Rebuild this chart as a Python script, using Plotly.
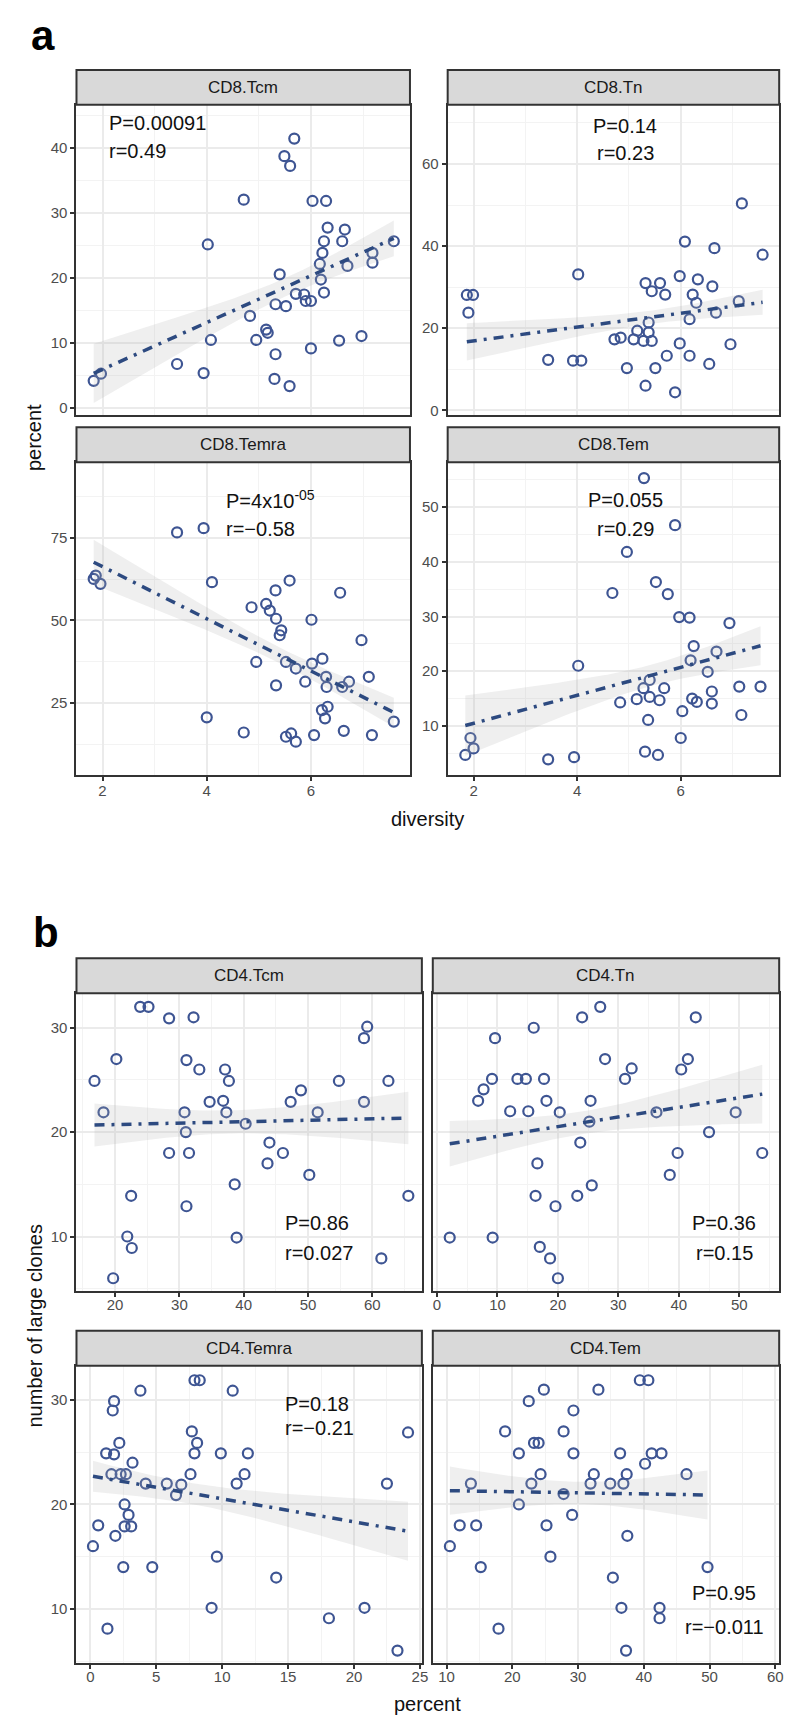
import numpy as np
import plotly.graph_objects as go

# ---- data ----
tcm8_div = [1.83, 1.97, 3.43, 3.94, 4.02, 4.08, 4.71, 4.83, 4.95, 5.14, 5.17, 5.32, 5.30, 5.40,
            5.32, 5.52, 5.49, 5.60, 5.68, 5.59, 5.71, 5.87, 6.00, 6.00, 6.03, 6.29, 6.32, 6.25,
            6.22, 6.19, 6.25, 6.65, 6.60, 6.70, 6.54, 6.97, 7.18, 7.18, 7.59, 6.17, 5.90]
tcm8_pct = [4.1, 5.2, 6.7, 5.3, 25.1, 10.4, 32.0, 14.1, 10.4, 12.0, 11.5, 8.2, 4.4, 20.5,
            15.9, 15.6, 38.7, 37.2, 41.4, 3.3, 17.5, 17.4, 16.4, 9.1, 31.8, 31.8, 27.7, 25.6,
            23.8, 19.7, 17.7, 27.4, 25.6, 21.8, 10.3, 11.0, 23.8, 22.3, 25.6, 22.1, 16.4]

tn8_div = [1.87, 1.99, 1.90, 3.44, 3.92, 4.08, 4.02, 4.72, 4.84, 4.96, 5.16, 5.09, 5.28, 5.44,
           5.38, 5.38, 5.32, 5.44, 5.60, 5.70, 5.32, 5.51, 5.73, 5.89, 5.98, 6.08, 5.98, 6.17,
           6.17, 6.23, 6.33, 6.30, 6.61, 6.65, 6.68, 6.55, 6.96, 7.12, 7.18, 7.58]
tn8_pct = [28.1, 28.1, 23.8, 12.3, 12.1, 12.1, 33.1, 17.3, 17.7, 10.3, 19.4, 17.3, 16.9, 16.9,
           21.4, 19.0, 31.0, 29.0, 31.0, 28.2, 6.0, 10.3, 13.3, 4.4, 32.7, 41.1, 16.3, 13.3,
           22.2, 28.2, 31.9, 26.2, 30.2, 39.5, 23.8, 11.3, 16.1, 26.6, 50.4, 37.9]

temra8_div = [1.83, 1.96, 1.87, 3.43, 3.94, 4.10, 4.00, 4.71, 4.86, 4.95, 5.14, 5.21, 5.32, 5.33,
              5.43, 5.40, 5.59, 5.33, 5.52, 5.71, 5.52, 5.62, 5.71, 5.89, 6.01, 6.02, 6.22, 6.29,
              6.30, 6.06, 6.21, 6.32, 6.27, 6.56, 6.60, 6.73, 6.63, 6.97, 7.11, 7.17, 7.59]
temra8_pct = [62.6, 61.1, 63.6, 76.7, 78.0, 61.6, 20.6, 16.0, 54.0, 37.4, 55.0, 53.0, 59.1, 50.5,
              47.0, 45.5, 62.1, 30.3, 37.4, 35.4, 14.7, 15.7, 13.2, 31.4, 50.2, 36.9, 38.4, 32.9,
              29.8, 15.2, 22.8, 23.8, 20.3, 58.4, 29.8, 31.4, 16.5, 44.0, 32.9, 15.2, 19.3]

tem8_div = [1.84, 2.00, 1.94, 3.44, 3.94, 4.02, 4.68, 4.83, 4.96, 5.15, 5.29, 5.31, 5.56, 5.37,
            5.28, 5.40, 5.40, 5.59, 5.68, 5.52, 5.75, 5.89, 5.97, 6.17, 6.03, 6.00, 6.25, 6.19,
            6.22, 6.31, 6.52, 6.60, 6.60, 6.69, 6.94, 7.13, 7.17, 7.54]
tem8_pct = [4.7, 5.9, 7.8, 3.9, 4.3, 21.0, 34.3, 14.3, 41.8, 14.9, 55.3, 5.3, 4.7, 11.1,
            16.9, 18.4, 15.3, 14.7, 16.9, 36.3, 34.1, 46.7, 29.9, 29.8, 12.7, 7.8, 24.6, 22.0,
            15.0, 14.4, 19.9, 16.3, 14.1, 23.6, 28.8, 17.2, 12.0, 17.2]

tcm4_pct = [16.8, 18.2, 20.2, 19.7, 22.5, 21.9, 22.6, 23.9, 25.2, 28.4, 32.2, 28.4, 31.5, 31.1,
            33.1, 30.8, 31.0, 31.1, 34.7, 36.8, 37.1, 37.7, 37.3, 38.6, 38.9, 40.3, 44.0, 43.7,
            46.1, 47.3, 48.9, 50.2, 51.5, 54.8, 58.7, 59.2, 58.7, 62.5, 61.4, 65.6]
tcm4_clones = [24.9, 21.9, 27.0, 6.0, 13.9, 10.0, 8.9, 32.0, 32.0, 30.9, 31.0, 18.0, 18.0, 26.9,
               26.0, 21.9, 20.0, 12.9, 22.9, 23.0, 26.0, 24.9, 21.9, 15.0, 9.9, 20.8, 19.0, 17.0,
               18.0, 22.9, 24.0, 15.9, 21.9, 24.9, 22.9, 30.1, 29.0, 24.9, 7.9, 13.9]

tn4_pct = [2.1, 9.2, 6.8, 7.7, 9.1, 9.6, 12.1, 15.1, 13.3, 14.7, 16.0, 17.7, 18.1, 20.3,
           16.6, 16.3, 17.0, 18.7, 19.6, 20.0, 23.2, 25.6, 23.7, 25.2, 25.4, 24.0, 27.0, 27.8,
           31.1, 32.2, 36.3, 38.5, 39.8, 40.4, 41.5, 42.8, 45.0, 49.4, 53.8]
tn4_clones = [9.9, 9.9, 23.0, 24.1, 25.1, 29.0, 22.0, 22.0, 25.1, 25.1, 30.0, 25.1, 23.0, 21.9,
              17.0, 13.9, 9.0, 7.9, 12.9, 6.0, 13.9, 14.9, 19.0, 21.0, 23.0, 31.0, 32.0, 27.0,
              25.1, 26.1, 21.9, 15.9, 18.0, 26.0, 27.0, 31.0, 20.0, 21.9, 18.0]

temra4_pct = [0.2, 0.6, 1.3, 1.2, 1.8, 1.7, 1.8, 1.6, 2.2, 2.3, 2.7, 3.2, 1.9, 2.6, 2.9,
              2.6, 3.1, 2.5, 3.8, 4.2, 4.7, 5.8, 6.5, 6.9, 7.6, 7.7, 8.1, 7.9, 7.9, 8.3,
              9.2, 9.6, 9.9, 10.8, 11.1, 11.7, 11.95, 14.1, 18.1, 20.8, 22.5, 23.3, 24.1]
temra4_clones = [16.0, 18.0, 8.1, 24.9, 24.8, 29.0, 29.9, 22.9, 25.9, 22.9, 22.9, 24.0, 17.0, 20.0, 19.0,
                 17.9, 17.9, 14.0, 30.9, 22.0, 14.0, 22.0, 20.9, 21.9, 22.9, 27.0, 25.9, 24.9, 31.9, 31.9,
                 10.1, 15.0, 24.9, 30.9, 22.0, 22.9, 24.9, 13.0, 9.1, 10.1, 22.0, 6.0, 26.9]

tem4_pct = [10.5, 12.0, 13.7, 14.5, 15.2, 17.9, 18.9, 21.0, 21.0, 22.5, 22.9, 23.3, 24.0, 24.3,
            24.8, 25.2, 25.8, 27.8, 27.8, 29.1, 29.3, 29.3, 31.9, 32.4, 33.1, 34.9, 35.3, 36.4,
            36.9, 36.6, 37.3, 37.4, 37.5, 39.4, 40.7, 40.2, 41.2, 42.7, 42.4, 42.4, 46.5, 49.7]
tem4_clones = [16.0, 18.0, 22.0, 18.0, 14.0, 8.1, 27.0, 20.0, 24.9, 29.9, 22.0, 25.9, 25.9, 22.9,
               31.0, 18.0, 15.0, 27.0, 21.0, 19.0, 29.0, 24.9, 22.0, 22.9, 31.0, 22.0, 13.0, 24.9,
               22.0, 10.1, 6.0, 22.9, 17.0, 31.9, 31.9, 23.9, 24.9, 24.9, 10.1, 9.1, 22.9, 14.0]

panel_names = ["CD8.Tcm", "CD8.Tn", "CD8.Temra", "CD8.Tem", "CD4.Tcm", "CD4.Tn", "CD4.Temra", "CD4.Tem"]
p_labels = ["P=0.00091", "P=0.14", "P=4x10<sup>-05</sup>", "P=0.055", "P=0.86", "P=0.36", "P=0.18", "P=0.95"]
r_labels = ["r=0.49", "r=0.23", "r=\u22120.58", "r=0.29", "r=0.027", "r=0.15", "r=\u22120.21", "r=\u22120.011"]

W, H = 800, 1732
FONT = "Liberation Sans, Arial, Helvetica, sans-serif"
PT_COLOR = "#3E5593"
LINE_COLOR = "#2D4A80"

# panel geometry in pixels: (left, right, top, bottom)
panels = [
    dict(x=tcm8_div, y=tcm8_pct, box=(69, 405, 97, 408), xr=[1.5, 7.9], yr=[-1.2, 46.6], xd=2, yd=10,
         showx=False, showy=True, lab=(0.092, "left", 0.942, 0.852)),
    dict(x=tn8_div, y=tn8_pct, box=(443, 777, 97, 408), xr=[1.5, 7.9], yr=[-1.2, 74.4], xd=2, yd=20,
         showx=False, showy=True, lab=(0.536, "center", 0.932, 0.846)),
    dict(x=temra8_div, y=temra8_pct, box=(69, 405, 455, 768), xr=[1.5, 7.9], yr=[3.2, 98], xd=2, yd=25,
         showx=True, showy=True, lab=(0.443, "left", 0.882, 0.786)),
    dict(x=tem8_div, y=tem8_pct, box=(443, 777, 455, 768), xr=[1.5, 7.9], yr=[1.1, 58.2], xd=2, yd=10,
         showx=True, showy=True, lab=(0.536, "center", 0.879, 0.786)),
    dict(x=tcm4_pct, y=tcm4_clones, box=(69, 417, 987, 1285), xr=[14, 67.7], yr=[4.8, 33.3], xd=10, yd=10,
         showx=True, showy=True, lab=(0.598, "left", 0.228, 0.128)),
    dict(x=tn4_pct, y=tn4_clones, box=(428, 777, 987, 1285), xr=[-0.7, 56.6], yr=[4.8, 33.3], xd=10, yd=10,
         showx=True, showy=False, lab=(0.842, "center", 0.228, 0.128)),
    dict(x=temra4_pct, y=temra4_clones, box=(69, 417, 1360, 1658), xr=[-1.05, 25.15], yr=[4.8, 33.3], xd=5, yd=10,
         showx=True, showy=True, lab=(0.598, "left", 0.872, 0.789)),
    dict(x=tem4_pct, y=tem4_clones, box=(428, 777, 1360, 1658), xr=[7.9, 60.6], yr=[4.8, 33.3], xd=10, yd=10,
         showx=True, showy=False, lab=(0.842, "center", 0.235, 0.121)),
]
STRIP_H = 35


def lm_band(x, y, n=80, mult=1.0):
    """Linear fit plus a standard-error band around it."""
    x = np.asarray(x, float)
    y = np.asarray(y, float)
    slope, icpt = np.polyfit(x, y, 1)
    xs = np.linspace(x.min(), x.max(), n)
    yhat = icpt + slope * xs
    resid = y - (icpt + slope * x)
    s = np.sqrt(np.sum(resid ** 2) / (len(x) - 2))
    sxx = np.sum((x - x.mean()) ** 2)
    se = s * np.sqrt(1 / len(x) + (xs - x.mean()) ** 2 / sxx)
    return xs, yhat, yhat - mult * se, yhat + mult * se


fig = go.Figure()
shapes, annotations = [], []

for i, p in enumerate(panels, start=1):
    suffix = "" if i == 1 else str(i)
    xa, ya = f"x{suffix}", f"y{suffix}"
    l, r, t, b = p["box"]
    fig.add_trace(go.Scatter(
        x=p["x"], y=p["y"], mode="markers", xaxis=xa, yaxis=ya, showlegend=False,
        marker=dict(symbol="circle-open", size=10, color=PT_COLOR, line=dict(width=2.2, color=PT_COLOR)),
    ))
    xs, yhat, lo, hi = lm_band(p["x"], p["y"])
    fig.add_trace(go.Scatter(
        x=np.concatenate([xs, xs[::-1]]), y=np.concatenate([lo, hi[::-1]]),
        fill="toself", fillcolor="rgba(175,175,175,0.2)", line=dict(width=0),
        mode="lines", xaxis=xa, yaxis=ya, showlegend=False, hoverinfo="skip",
    ))
    fig.add_trace(go.Scatter(
        x=xs, y=yhat, mode="lines", xaxis=xa, yaxis=ya, showlegend=False,
        line=dict(color=LINE_COLOR, width=3.5, dash="10px,7px,3px,7px"),
    ))

    common = dict(showline=True, mirror=True, linecolor="#333333", linewidth=2,
                  gridcolor="#EBEBEB", gridwidth=1.6, zeroline=False, tick0=0,
                  ticklen=4, tickwidth=2, tickcolor="#333333",
                  tickfont=dict(family=FONT, size=15, color="#4D4D4D"))
    fig.update_layout(**{
        f"xaxis{suffix}": dict(common, domain=[l / W, r / W], anchor=ya, range=p["xr"], dtick=p["xd"],
                               ticks="outside" if p["showx"] else "", showticklabels=p["showx"],
                               ticklabelstandoff=-3 if i <= 4 else -5,
                               minor=dict(dtick=p["xd"] / 2, showgrid=True, gridcolor="#F3F3F3", gridwidth=0.8)),
        f"yaxis{suffix}": dict(common, domain=[1 - b / H, 1 - t / H], anchor=xa, range=p["yr"], dtick=p["yd"],
                               ticks="outside" if p["showy"] else "", showticklabels=p["showy"],
                               minor=dict(dtick=p["yd"] / 2, showgrid=True, gridcolor="#F3F3F3", gridwidth=0.8)),
    })

    # facet strip
    shapes.append(dict(type="rect", xref="paper", yref="paper", x0=l / W, x1=r / W,
                       y0=1 - t / H, y1=1 - (t - STRIP_H) / H,
                       fillcolor="#D9D9D9", line=dict(color="#333333", width=2)))
    annotations.append(dict(text=panel_names[i - 1], xref="paper", yref="paper",
                            x=(l + r) / 2 / W, y=1 - (t - STRIP_H / 2) / H, showarrow=False,
                            xanchor="center", yanchor="middle",
                            font=dict(family=FONT, size=17, color="#1A1A1A")))

    lx, anchor, py, ry = p["lab"]
    for txt, yy in ((p_labels[i - 1], py), (r_labels[i - 1], ry)):
        annotations.append(dict(text=txt, xref=f"{xa} domain", yref=f"{ya} domain", x=lx, y=yy,
                                xanchor=anchor, yanchor="middle", showarrow=False,
                                font=dict(family=FONT, size=20, color="#111111")))

# axis titles and panel letters
titles = [
    ("percent", 26, 430, -90), ("diversity", 423, 812, 0),
    ("number of large clones", 27, 1320, -90), ("percent", 423, 1699, 0),
]
for txt, px, py, ang in titles:
    annotations.append(dict(text=txt, xref="paper", yref="paper", x=px / W, y=1 - py / H,
                            textangle=ang, showarrow=False, xanchor="center", yanchor="middle",
                            font=dict(family=FONT, size=20, color="#111111")))
for txt, px, py in (("a", 35, 28), ("b", 38, 926)):
    annotations.append(dict(text=f"<b>{txt}</b>", xref="paper", yref="paper", x=px / W, y=1 - py / H,
                            showarrow=False, xanchor="center", yanchor="middle",
                            font=dict(family=FONT, size=42, color="#000000")))

fig.update_layout(
    width=W, height=H, margin=dict(l=0, r=0, t=0, b=0),
    paper_bgcolor="white", plot_bgcolor="white",
    shapes=shapes, annotations=annotations, showlegend=False,
)

fig.write_html("out.html")
